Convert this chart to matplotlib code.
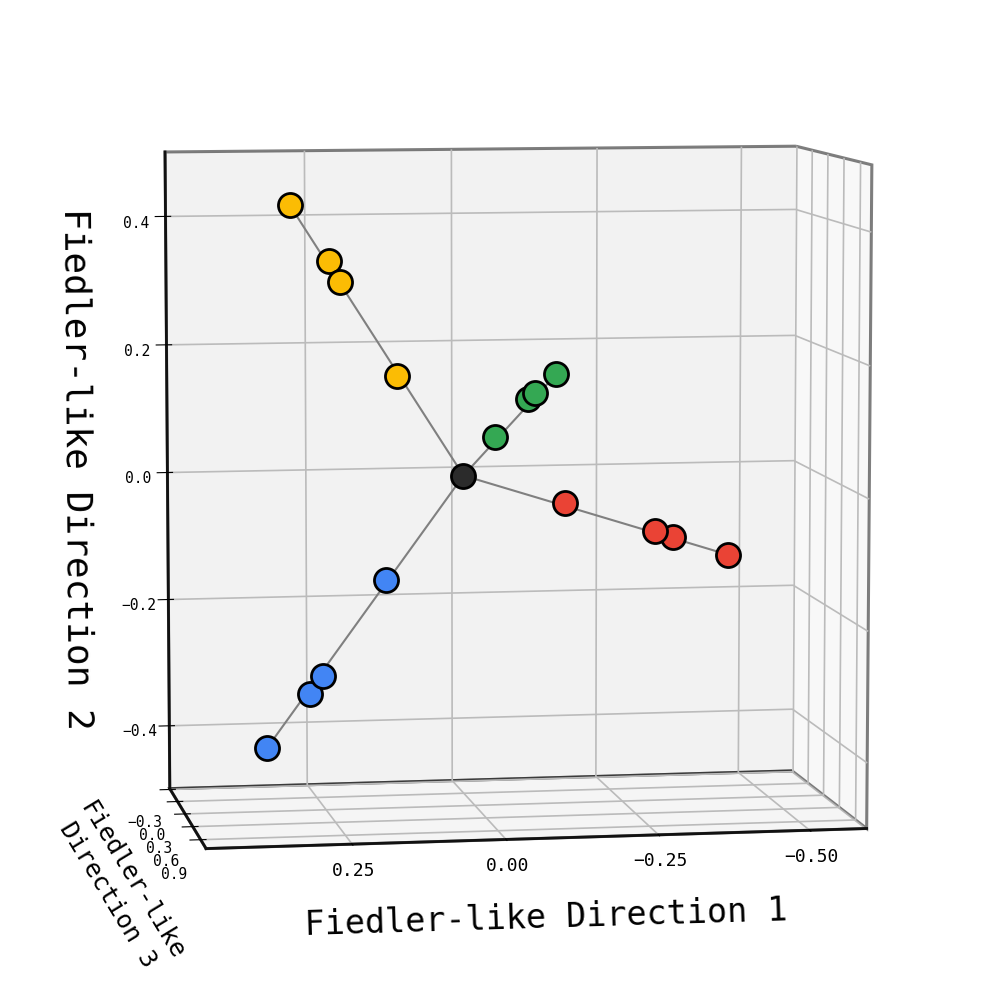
import matplotlib
matplotlib.use("Agg")
import matplotlib.pyplot as plt

plt.rcParams['font.family'] = 'DejaVu Sans Mono'

yellow_x = [0.276, 0.213, 0.195, 0.105]
yellow_y = [-0.31, -0.24, -0.22, -0.115]
yellow_z = [0.416, 0.329, 0.298, 0.153]
blue_x = [0.32, 0.248, 0.227, 0.125]
blue_y = [-0.30, -0.24, -0.22, -0.115]
blue_z = [-0.439, -0.35, -0.322, -0.167]
red_x = [-0.479, -0.377, -0.345, -0.182]
red_y = [-0.31, -0.245, -0.225, -0.12]
red_z = [-0.148, -0.115, -0.104, -0.051]
green_x = [-0.092, -0.071, -0.064, -0.031]
green_y = [0.95, 0.75, 0.69, 0.35]
green_z = [0.19, 0.155, 0.143, 0.074]
center = [0.0, 0.0, 0.0]
arms = [(yellow_x, yellow_y, yellow_z, '#FBBC04'),
        (blue_x, blue_y, blue_z, '#4285F4'),
        (red_x, red_y, red_z, '#EA4335'),
        (green_x, green_y, green_z, '#34A853')]

x_ticks = [-0.5, -0.25, 0.0, 0.25]
y_ticks = [-0.3, 0.0, 0.3, 0.6, 0.9]
z_ticks = [-0.4, -0.2, 0.0, 0.2, 0.4]

fig = plt.figure(figsize=(9.97, 9.97), dpi=100)
ax = fig.add_subplot(111, projection='3d', computed_zorder=False)
ax.set_position([-0.001, -0.0005, 1.0, 1.0])
ax.set_box_aspect((1, 0.52, 1), zoom=0.96)
ax.view_init(elev=6.7, azim=80.5)

for xs, ys, zs, c in arms:
    ax.plot([center[0], xs[0]], [center[1], ys[0]], [center[2], zs[0]],
            color='#808080', lw=1.5, zorder=1)
for xs, ys, zs, c in arms:
    ax.scatter(xs, ys, zs, s=300, c=c, edgecolors='black', linewidths=2,
               depthshade=False, alpha=1, zorder=3)
ax.scatter(*[[v] for v in center], s=300, c='#2b2b2b', edgecolors='black',
           linewidths=2, depthshade=False, zorder=4)

ax.set_xlim(-0.595, 0.485)
ax.set_ylim(-0.32, 1.1)
ax.set_zlim(-0.5, 0.5)
ax.set_xticks(x_ticks)
ax.set_yticks(y_ticks)
ax.set_zticks(z_ticks)
ax.tick_params(axis='x', labelsize=13, pad=1)
ax.tick_params(axis='y', labelsize=10.5, pad=7)
ax.tick_params(axis='z', labelsize=10.5, pad=8.5)
ax.set_xlabel('Fiedler-like Direction 1', fontsize=24, labelpad=20)
ax.set_ylabel('Fiedler-like\nDirection 3', fontsize=18, labelpad=18)
ax.set_zlabel('Fiedler-like Direction 2', fontsize=26, labelpad=30)
for a in (ax.xaxis, ax.yaxis, ax.zaxis):
    a.pane.set_edgecolor('black')
    a.pane.set_linewidth(2.2)
    a.line.set_linewidth(2)
    a.line.set_color('#111111')
    a._axinfo['grid']['color'] = '#bbbbbb'
    a._axinfo['grid']['linewidth'] = 1.2
fig.savefig('out.png', dpi=100)
